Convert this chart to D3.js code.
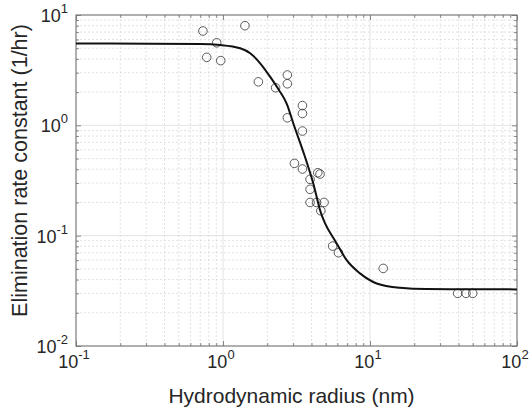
<!DOCTYPE html>
<html>
<head>
<meta charset="utf-8">
<script src="https://cdn.jsdelivr.net/npm/d3@7"></script>
<style>
  body { margin: 0; background: #fff; }
  text { font-family: "Liberation Sans", Arial, sans-serif; fill: #262626; }
</style>
</head>
<body>
<svg id="chart" width="532" height="409"></svg>
<script>
// measured points: hydrodynamic radius (nm) vs elimination rate constant (1/hr)
const radius = [0.73, 1.41, 0.906, 0.775, 0.965, 1.74, 2.28, 2.74, 2.74, 3.47, 3.47, 2.74, 3.47,
                3.06, 3.47, 4.41, 4.57, 3.91, 3.91, 3.91, 4.33, 4.87, 4.63, 5.57, 6.10,
                12.3, 39.5, 45, 50];
const rate = [7.16, 8.0, 5.6, 4.13, 3.86, 2.48, 2.19, 2.86, 2.38, 1.51, 1.28, 1.17, 0.888,
              0.452, 0.402, 0.372, 0.362, 0.324, 0.263, 0.200, 0.200, 0.200, 0.168, 0.0805, 0.070,
              0.0505, 0.030, 0.030, 0.030];

// fitted curve
const fitRadius = [0.1, 0.319, 0.698, 0.955, 1.31, 1.53, 1.79, 2.09, 2.40, 2.72, 3.01, 3.61,
                   4.11, 4.57, 5.93, 6.94, 8.56, 11.1, 16.0, 24.3, 100];
const fitRate = [5.52, 5.50, 5.46, 5.35, 4.99, 4.50, 3.65, 2.76, 2.09, 1.56, 1.04, 0.519,
                 0.298, 0.171, 0.0851, 0.060, 0.0455, 0.0369, 0.0337, 0.0328, 0.0326];

const xTicks = [0.1, 1, 10, 100];
const xTickExp = ["-1", "0", "1", "2"];
const yTicks = [0.01, 0.1, 1, 10];
const yTickExp = ["-2", "-1", "0", "1"];

const xLabel = "Hydrodynamic radius (nm)";
const yLabel = "Elimination rate constant (1/hr)";

let svg = d3.select("#chart");
const [padLeft, padRight, padTop, padBottom] = [76, 517, 15, 346];

let x = d3.scaleLog().domain([0.1, 100]).range([padLeft, padRight]);
let y = d3.scaleLog().domain([0.01, 10]).range([padBottom, padTop]);

// minor positions 2..9 inside each decade
let minorX = [], minorY = [];
xTicks.slice(0, -1).forEach(d => d3.range(2, 10).forEach(k => minorX.push(d * k)));
yTicks.slice(0, -1).forEach(d => d3.range(2, 10).forEach(k => minorY.push(d * k)));

let grid = svg.append("g").attr("class", "grid");

grid.selectAll("line.minx").data(minorX).enter().append("line")
    .attr("x1", d => x(d)).attr("x2", d => x(d)).attr("y1", padTop).attr("y2", padBottom)
    .attr("stroke", "#d6d6d6").attr("stroke-width", 0.7).attr("stroke-dasharray", "2,2");
grid.selectAll("line.miny").data(minorY).enter().append("line")
    .attr("y1", d => y(d)).attr("y2", d => y(d)).attr("x1", padLeft).attr("x2", padRight)
    .attr("stroke", "#d6d6d6").attr("stroke-width", 0.7).attr("stroke-dasharray", "2,2");
grid.selectAll("line.majx").data(xTicks).enter().append("line")
    .attr("x1", d => x(d)).attr("x2", d => x(d)).attr("y1", padTop).attr("y2", padBottom)
    .attr("stroke", "#dcdcdc").attr("stroke-width", 0.8);
grid.selectAll("line.majy").data(yTicks).enter().append("line")
    .attr("y1", d => y(d)).attr("y2", d => y(d)).attr("x1", padLeft).attr("x2", padRight)
    .attr("stroke", "#dcdcdc").attr("stroke-width", 0.8);

// ticks on all four sides, pointing inward
function tickAxis(axis, tf) {
    let g = svg.append("g").attr("transform", tf).call(axis);
    g.select(".domain").remove();
    g.selectAll("text").remove();
    g.selectAll("line").attr("stroke", "#6e6e6e").attr("stroke-width", 0.8);
    return g;
}
tickAxis(d3.axisBottom(x).tickValues(xTicks).tickSize(-5), `translate(0,${padBottom})`);
tickAxis(d3.axisBottom(x).tickValues(minorX).tickSize(-3), `translate(0,${padBottom})`);
tickAxis(d3.axisTop(x).tickValues(xTicks).tickSize(-5), `translate(0,${padTop})`);
tickAxis(d3.axisTop(x).tickValues(minorX).tickSize(-3), `translate(0,${padTop})`);
tickAxis(d3.axisLeft(y).tickValues(yTicks).tickSize(-5), `translate(${padLeft},0)`);
tickAxis(d3.axisLeft(y).tickValues(minorY).tickSize(-3), `translate(${padLeft},0)`);
tickAxis(d3.axisRight(y).tickValues(yTicks).tickSize(-5), `translate(${padRight},0)`);
tickAxis(d3.axisRight(y).tickValues(minorY).tickSize(-3), `translate(${padRight},0)`);

// box
svg.append("rect")
    .attr("x", padLeft).attr("y", padTop).attr("width", padRight - padLeft).attr("height", padBottom - padTop)
    .attr("fill", "none").attr("stroke", "#6e6e6e").attr("stroke-width", 1);

// tick labels as 10^n
svg.selectAll("text.xt").data(xTicks).enter().append("text")
    .attr("class", "xt")
    .attr("x", d => x(d) - 2).attr("y", padBottom + 22)
    .attr("text-anchor", "middle")
    .each(function (d, i) {
        let t = d3.select(this);
        t.append("tspan").attr("font-size", 18).text("10");
        t.append("tspan").attr("font-size", 13).attr("dy", -9).text(xTickExp[i]);
    });

svg.selectAll("text.yt").data(yTicks).enter().append("text")
    .attr("class", "yt")
    .attr("x", padLeft - 8).attr("y", d => y(d) + 7)
    .attr("text-anchor", "end")
    .each(function (d, i) {
        let t = d3.select(this);
        t.append("tspan").attr("font-size", 18).text("10");
        t.append("tspan").attr("font-size", 13).attr("dy", -9).text(yTickExp[i]);
    });

// axis titles
svg.append("text")
    .attr("x", (padLeft + padRight) / 2 - 5).attr("y", 403)
    .attr("text-anchor", "middle").attr("font-size", 21)
    .text(xLabel);

svg.append("text")
    .attr("transform", `translate(27,${(padTop + padBottom) / 2 - 10}) rotate(-90)`)
    .attr("text-anchor", "middle").attr("font-size", 21.5)
    .text(yLabel);

// data points
svg.append("g").selectAll("circle")
    .data(radius.map((r, i) => [r, rate[i]]))
    .enter().append("circle")
    .attr("cx", d => x(d[0])).attr("cy", d => y(d[1])).attr("r", 4.3)
    .attr("fill", "none").attr("stroke", "#333").attr("stroke-width", 0.8);

// fit curve
let line = d3.line().x(d => x(d[0])).y(d => y(d[1])).curve(d3.curveMonotoneX);
svg.append("path")
    .datum(fitRadius.map((r, i) => [r, fitRate[i]]))
    .attr("d", line)
    .attr("fill", "none").attr("stroke", "#111").attr("stroke-width", 2);
</script>
</body>
</html>
